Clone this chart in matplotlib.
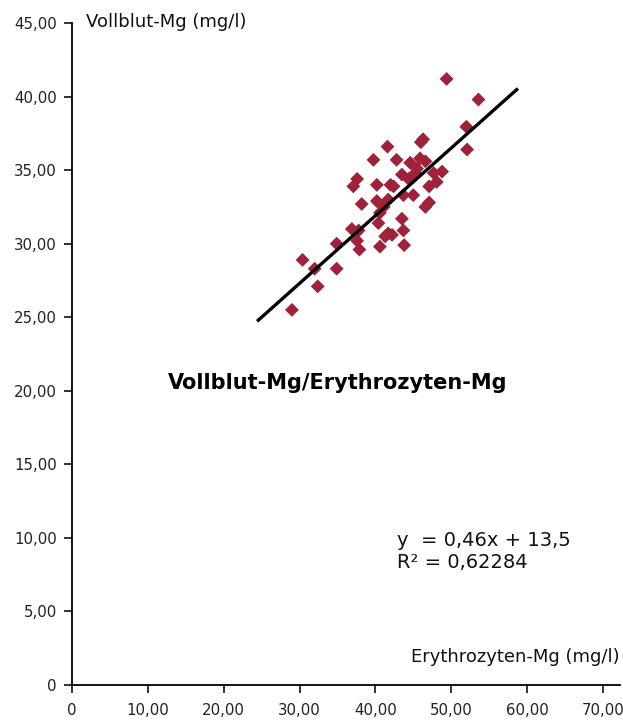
import matplotlib
matplotlib.use("Agg")
import matplotlib.pyplot as plt
from matplotlib.ticker import FuncFormatter

# Data
erythro_mg = [49.4, 53.6, 52.0, 52.1, 46.3, 46.0, 41.6, 39.75, 42.8, 44.6,
              45.9, 46.6, 45.5, 45.25, 43.5, 44.4, 47.7, 48.8, 48.1, 47.1,
              37.6, 37.1, 40.2, 42.0, 42.4, 45.0, 43.7, 40.2, 41.7, 38.2,
              41.1, 40.6, 46.6, 47.1, 43.5, 43.7, 40.4, 36.9, 37.8, 41.7,
              42.2, 41.3, 37.6, 37.9, 40.6, 43.8, 34.9, 30.4, 32.0, 34.9,
              32.4, 29.0]
vollblut_mg = [41.2, 39.8, 37.95, 36.4, 37.1, 36.9, 36.6, 35.7, 35.7, 35.5,
               35.8, 35.6, 35.1, 34.8, 34.7, 34.4, 34.8, 34.9, 34.2, 33.9,
               34.4, 33.9, 34.0, 34.0, 33.9, 33.3, 33.3, 32.9, 33.0, 32.7,
               32.5, 32.1, 32.5, 32.8, 31.7, 30.9, 31.4, 31.0, 30.9, 30.7,
               30.6, 30.5, 30.2, 29.6, 29.8, 29.9, 30.0, 28.9, 28.3, 28.3,
               27.1, 25.5]
slope = 0.46
intercept = 13.5
r_squared = "0,62284"
fit_x = [24.4, 58.8]
x_ticks = [0, 10, 20, 30, 40, 50, 60, 70]
y_ticks = [0, 5, 10, 15, 20, 25, 30, 35, 40, 45]

plt.rcParams['font.family'] = ['DejaVu Sans']

fig = plt.figure(figsize=(6.23, 7.2), dpi=100)
ax = fig.add_axes([0.1156, 0.0486, 0.88, 0.9194])

ax.scatter(erythro_mg, vollblut_mg, marker='D', s=50, color='#A0213A',
           edgecolors='none', zorder=3)
fit_y = [slope * x + intercept for x in fit_x]
ax.plot(fit_x, fit_y, color='black', lw=2.4, zorder=4, solid_capstyle='butt')

ax.set_xlim(0, 72.3)
ax.set_ylim(0, 45)
ax.set_xticks(x_ticks)
ax.set_yticks(y_ticks)

fmt = FuncFormatter(lambda v, p: "0" if v == 0 else f"{v:.2f}".replace('.', ','))
ax.xaxis.set_major_formatter(fmt)
ax.yaxis.set_major_formatter(fmt)

for s in ['top', 'right']:
    ax.spines[s].set_visible(False)
for s in ['left', 'bottom']:
    ax.spines[s].set_linewidth(1.3)
ax.tick_params(axis='both', direction='out', length=6, width=1.3,
               labelsize=10.8, colors='#222222', pad=5)
ax.tick_params(axis='x', pad=7)

fig.text(86 / 623, 1 - 22 / 720, "Vollblut-Mg (mg/l)", fontsize=13,
         va='center', ha='left', color='#111111')
fig.text(620 / 623, 1 - 657 / 720, "Erythrozyten-Mg (mg/l)", fontsize=13,
         va='center', ha='right', color='#111111')
fig.text(338 / 623, 1 - 383 / 720, "Vollblut-Mg/Erythrozyten-Mg", fontsize=15,
         fontweight='bold', va='center', ha='center')
fig.text(397 / 623, 1 - 540 / 720, "y  = 0,46x + 13,5", fontsize=14,
         va='center', ha='left', color='#111111')
fig.text(397 / 623, 1 - 563 / 720, f"R² = {r_squared}", fontsize=14,
         va='center', ha='left', color='#111111')

fig.savefig("out.png", dpi=100)
